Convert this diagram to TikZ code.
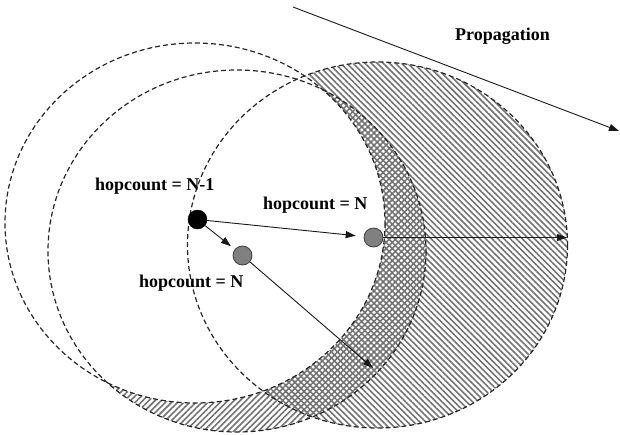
\documentclass[tikz,border=0pt]{standalone}
\usepackage{fontspec}
\setmainfont{Liberation Serif}
\usetikzlibrary{patterns.meta,arrows.meta}
\begin{document}
\begin{tikzpicture}[x=1pt,y=-1pt,
  rangecircle/.style={draw=black!85,line width=1.2pt,dash pattern=on 5pt off 3pt},
  hatchA/.style={pattern={Lines[angle=-45,distance=4.3pt,line width=1.6pt]},pattern color=black!55},
  hatchB/.style={pattern={Lines[angle=45,distance=4.3pt,line width=1.6pt]},pattern color=black!55},
  conn/.style={draw=black!90,line width=0.9pt,-{Triangle[length=10pt,width=7pt]}},
  srcnode/.style={circle,fill=black,draw=black,minimum size=19pt,inner sep=0pt},
  nbnode/.style={circle,fill=black!50,draw=black!75,line width=0.8pt,minimum size=19pt,inner sep=0pt},
  lbl/.style={anchor=base west,inner sep=0pt,font=\fontsize{18}{20}\selectfont\bfseries}]
\useasboundingbox (0,0) rectangle (620,434);
% hatched areas
\fill[hatchA] (377.5,245) ellipse [x radius=190,y radius=183];
\fill[hatchB] (237,251) ellipse [x radius=189,y radius=181];
\fill[white] (195,223) ellipse [x radius=190,y radius=180];
% dashed range circles
\draw[rangecircle] (195,223) ellipse [x radius=190,y radius=180];
\draw[rangecircle] (237,251) ellipse [x radius=189,y radius=181];
\draw[rangecircle] (377.5,245) ellipse [x radius=190,y radius=183];
% nodes
\node[srcnode] (src) at (197.5,219.5) {};
\node[nbnode] (n1) at (242.5,255.5) {};
\node[nbnode] (n2) at (373.5,237.5) {};
\coordinate (e2) at (567,237.5);
\coordinate (e1) at (373,368);
\coordinate (ps) at (293,7);
\coordinate (pe) at (619,131);
% connectors
\draw[conn,shorten >=5pt] (src) -- (n1);
\draw[conn,shorten >=8pt] (src) -- (n2);
\draw[conn] (n2) -- (e2);
\draw[conn] (n1) -- (e1);
\draw[conn] (ps) -- (pe);
% labels
\node[lbl] (l1) at (95,190.7) {hopcount = N-1};
\node[lbl] (l2) at (263,209.3) {hopcount = N};
\node[lbl] (l3) at (139,287.7) {hopcount = N};
\node[lbl] (l4) at (455,40) {Propagation};
\end{tikzpicture}
\end{document}
